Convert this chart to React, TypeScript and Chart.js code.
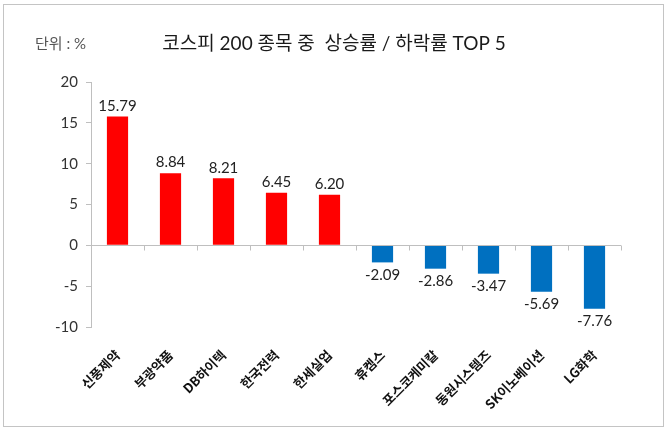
import React, { useEffect, useRef } from "react";
import { Chart, registerables } from "chart.js";

Chart.register(...registerables);

const categories = ["신풍제약", "부광약품", "DB하이텍", "한국전력", "한세실업", "휴켐스", "포스코케미칼", "동원시스템즈", "SK이노베이션", "LG화학"];
const values = [15.79, 8.84, 8.21, 6.45, 6.2, -2.09, -2.86, -3.47, -5.69, -7.76];
const yTicks = [-10, -5, 0, 5, 10, 15, 20];
const titleText = "코스피 200 종목 중  상승률 / 하락률 TOP 5";
const unitText = "단위 : %";

const FONT = "Lato, 'Noto Sans CJK KR', sans-serif";
const KFONT = "'Noto Sans CJK KR', sans-serif";

const decorPlugin = {
  id: "decor",
  beforeDraw(chart: any) {
    const { ctx, width, height } = chart;
    ctx.save();
    ctx.fillStyle = "#ffffff";
    ctx.fillRect(0, 0, width, height);
    ctx.strokeStyle = "#c4c4c4";
    ctx.lineWidth = 1;
    ctx.strokeRect(3.5, 4.5, 660, 422);
    ctx.restore();
  },
  afterDraw(chart: any) {
    const { ctx } = chart;
    const x = chart.scales.x;
    const y = chart.scales.y;
    const y0 = Math.round(y.getPixelForValue(0)) + 0.5;
    ctx.save();
    ctx.strokeStyle = "#bfbfbf";
    ctx.lineWidth = 1;
    ctx.beginPath();
    ctx.moveTo(x.left, y0);
    ctx.lineTo(x.right, y0);
    const n = categories.length;
    const w = (x.right - x.left) / n;
    for (let i = 0; i <= n; i++) {
      const px = Math.round(x.left + i * w) + 0.5;
      ctx.moveTo(px, y0);
      ctx.lineTo(px, y0 + 5);
    }
    ctx.stroke();

    const meta = chart.getDatasetMeta(0);
    ctx.font = "15px " + FONT;
    ctx.fillStyle = "#222222";
    ctx.textAlign = "center";
    meta.data.forEach((bar: any, i: number) => {
      const v = values[i];
      const txt = v.toFixed(2);
      if (v >= 0) {
        ctx.textBaseline = "bottom";
        ctx.fillText(txt, bar.x, bar.y - 3);
      } else {
        ctx.textBaseline = "top";
        ctx.fillText(txt, bar.x, bar.y + 5);
      }
    });

    ctx.textBaseline = "middle";
    ctx.textAlign = "center";
    ctx.fillStyle = "#1a1a1a";
    ctx.font = "19px " + FONT;
    ctx.fillText(titleText, 334, 44);
    ctx.textAlign = "left";
    ctx.fillStyle = "#555555";
    ctx.font = "15px " + FONT;
    ctx.fillText(unitText, 35, 44);
    ctx.restore();
  },
};

export default function App() {
  const ref = useRef<HTMLCanvasElement>(null);
  useEffect(() => {
    document.body.style.margin = "0";
    const chart = new Chart(ref.current as HTMLCanvasElement, {
      type: "bar",
      data: {
        labels: categories,
        datasets: [
          {
            data: values,
            backgroundColor: values.map((v) => (v >= 0 ? "#ff0000" : "#0070c0")),
            barPercentage: 0.4,
            categoryPercentage: 1,
          },
        ],
      },
      options: {
        animation: false,
        responsive: false,
        devicePixelRatio: 1,
        layout: { padding: { left: 0, top: 82, right: 49, bottom: 0 } },
        plugins: { legend: { display: false }, tooltip: { enabled: false }, title: { display: false } },
        scales: {
          x: {
            position: "bottom",
            grid: { display: false },
            border: { display: false },
            ticks: {
              autoSkip: false,
              maxRotation: 45,
              minRotation: 45,
              padding: 12,
              color: "#111111",
              font: { family: KFONT, size: 13, weight: "bold" },
            },
            afterFit: (s: any) => {
              s.height = 106;
            },
          },
          y: {
            min: -10,
            max: 20,
            afterBuildTicks: (s: any) => {
              s.ticks = yTicks.map((v) => ({ value: v }));
            },
            grid: { display: true, drawOnChartArea: false, drawTicks: true, tickLength: 5, color: "#bfbfbf" },
            border: { display: true, color: "#bfbfbf" },
            ticks: {
              padding: 8,
              color: "#333333",
              font: { family: FONT, size: 15 },
            },
            afterFit: (s: any) => {
              s.width = 91;
            },
          },
        },
      },
      plugins: [decorPlugin],
    });
    return () => chart.destroy();
  }, []);
  return (
    <div style={{ position: "absolute", left: 0, top: 0, width: 670, height: 433 }}>
      <canvas ref={ref} width={670} height={433} style={{ width: 670, height: 433, display: "block" }} />
    </div>
  );
}
